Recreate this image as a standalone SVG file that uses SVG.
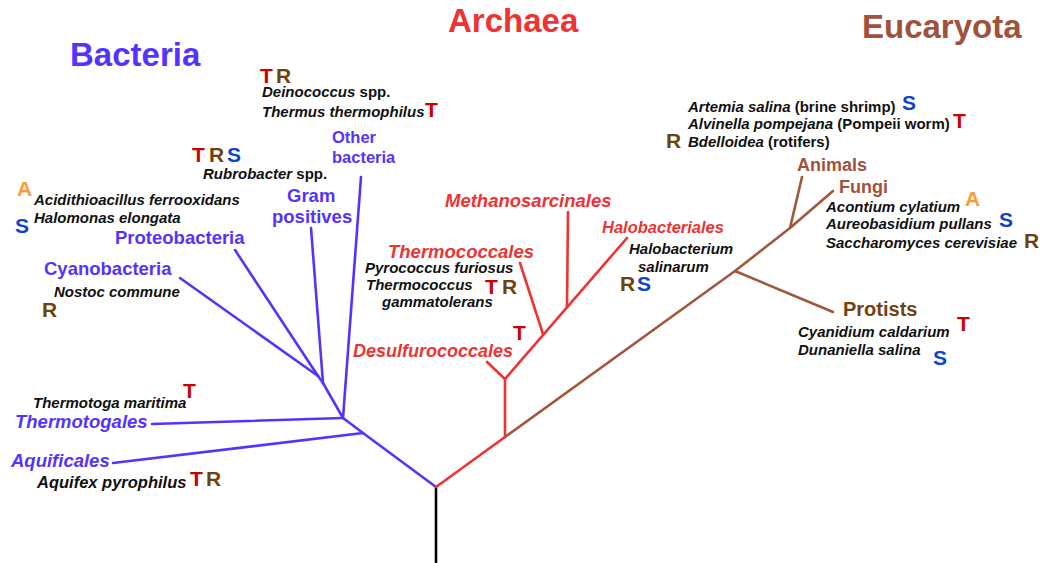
<svg xmlns="http://www.w3.org/2000/svg" width="1044" height="563" viewBox="0 0 1044 563">
<style>
text{font-family:"Liberation Sans",Arial,sans-serif;font-weight:bold}
.title{font-size:33px}
.sp{font-size:15px;fill:#111;font-style:italic}
.up{font-style:normal}
.bl{font-size:18.5px;fill:#5533ff}
.rd{font-size:18.5px;fill:#ee3333;font-style:italic}
.br{font-size:18px;fill:#a0523c}
.it{font-style:italic}
.L{font-size:21px}
.T{fill:#cc0000}
.R{fill:#6e420c}
.S{fill:#0d44cc}
.A{fill:#ff9933}
.lb{stroke:#5533ff}
.lr{stroke:#ee3333}
.ln{stroke:#a0583c}
.lk{stroke:#000}
#connectors line,#connectors polyline{stroke-width:2.6;fill:none;stroke-linecap:round;stroke-linejoin:round}
</style>
<rect width="1044" height="563" fill="#fff"/>
<g id="connectors">
<line class="lk" x1="436" y1="487" x2="436" y2="562"/>
<polyline class="lb" points="436,487 363,433 343,418"/>
<line class="lb" x1="363" y1="433" x2="113" y2="463"/>
<line class="lb" x1="343" y1="418" x2="152" y2="424"/>
<line class="lb" x1="343" y1="418" x2="361" y2="177"/>
<line class="lb" x1="343" y1="418" x2="323" y2="383"/>
<line class="lb" x1="323" y1="383" x2="311" y2="228"/>
<line class="lb" x1="323" y1="383" x2="318" y2="376"/>
<line class="lb" x1="318" y1="376" x2="235" y2="250"/>
<line class="lb" x1="318" y1="376" x2="180" y2="278"/>
<line class="lr" x1="436" y1="487" x2="505" y2="437"/>
<line class="lr" x1="505" y1="437" x2="505" y2="379"/>
<line class="lr" x1="505" y1="379" x2="487" y2="362"/>
<line class="lr" x1="505" y1="379" x2="627" y2="238"/>
<line class="lr" x1="543" y1="334" x2="520" y2="263"/>
<line class="lr" x1="567" y1="307" x2="568" y2="212"/>
<polyline class="ln" points="505,437 735,271 790,228 833,191"/>
<line class="ln" x1="790" y1="228" x2="802" y2="177"/>
<line class="ln" x1="735" y1="271" x2="833" y2="312"/>
</g>
<g id="titles">
<text id="t-bacteria" class="title" x="70" y="66" fill="#5533ff">Bacteria</text>
<text id="t-archaea" class="title" x="448" y="32" fill="#ee3333">Archaea</text>
<text id="t-eucaryota" class="title" x="862" y="38" fill="#a0523c">Eucaryota</text>
</g>
<g id="n-deinococcus">
<text class="L T" x="260" y="83">T</text><text class="L R" x="276" y="83">R</text>
<text class="sp" x="262" y="97">Deinococcus<tspan class="up"> spp.</tspan></text>
<text class="sp" x="262" y="117">Thermus thermophilus</text>
<text class="L T" x="425" y="117">T</text>
</g>
<g id="n-other-bacteria">
<text class="bl" style="font-size:16.5px" x="332" y="143">Other</text>
<text class="bl" style="font-size:16.5px" x="332" y="163">bacteria</text>
</g>
<g id="n-rubrobacter">
<text class="L T" x="192" y="162">T</text><text class="L R" x="209" y="162">R</text><text class="L S" x="227" y="162">S</text>
<text class="sp" x="203" y="179">Rubrobacter<tspan class="up"> spp.</tspan></text>
</g>
<g id="n-gram-positives">
<text class="bl" x="287" y="202">Gram</text>
<text class="bl" x="272" y="223">positives</text>
</g>
<g id="n-proteobacteria">
<text class="L A" x="17" y="196">A</text>
<text class="sp" x="34" y="205">Acidithioacillus ferrooxidans</text>
<text class="sp" x="34" y="223">Halomonas elongata</text>
<text class="L S" x="15" y="233">S</text>
<text class="bl" x="115" y="244">Proteobacteria</text>
</g>
<g id="n-cyanobacteria">
<text class="bl" x="44" y="275">Cyanobacteria</text>
<text class="sp" x="54" y="297">Nostoc commune</text>
<text class="L R" x="42" y="317">R</text>
</g>
<g id="n-thermotogales">
<text class="sp" x="33" y="408">Thermotoga maritima</text>
<text class="L T" x="183" y="398">T</text>
<text class="bl it" x="15" y="428">Thermotogales</text>
</g>
<g id="n-aquificales">
<text class="bl it" x="11" y="467">Aquificales</text>
<text class="sp" style="font-size:16.5px" x="37" y="488">Aquifex pyrophilus</text>
<text class="L T" x="190" y="486">T</text><text class="L R" x="206" y="486">R</text>
</g>
<g id="n-methanosarcinales">
<text class="rd" x="445" y="207">Methanosarcinales</text>
</g>
<g id="n-halobacteriales">
<text class="rd" style="font-size:16.5px" x="602" y="233">Halobacteriales</text>
<text class="sp" x="629" y="254">Halobacterium</text>
<text class="sp" x="638" y="272">salinarum</text>
<text class="L R" x="620" y="291">R</text><text class="L S" x="637" y="291">S</text>
</g>
<g id="n-thermococcales">
<text class="rd" x="388" y="258">Thermococcales</text>
<text class="sp" x="365" y="273">Pyrococcus furiosus</text>
<text class="sp" x="366" y="290">Thermococcus</text>
<text class="sp" x="382" y="307">gammatolerans</text>
<text class="L T" x="485" y="294">T</text><text class="L R" x="502" y="294">R</text>
</g>
<g id="n-desulfurococcales">
<text class="L T" x="513" y="340">T</text>
<text class="rd" style="font-size:18px" x="353" y="357">Desulfurococcales</text>
</g>
<g id="n-animals">
<text class="sp" x="688" y="112">Artemia salina<tspan class="up"> (brine shrimp)</tspan></text>
<text class="L S" x="902" y="110">S</text>
<text class="sp" x="688" y="129">Alvinella pompejana<tspan class="up"> (Pompeii worm)</tspan></text>
<text class="L T" x="953" y="128">T</text>
<text class="L R" x="666" y="148">R</text>
<text class="sp" x="688" y="147">Bdelloidea<tspan class="up"> (rotifers)</tspan></text>
<text class="br" x="797" y="171">Animals</text>
</g>
<g id="n-fungi">
<text class="br" x="839" y="193">Fungi</text>
<text class="sp" x="826" y="212">Acontium cylatium</text>
<text class="L A" x="965" y="206">A</text>
<text class="sp" x="826" y="229">Aureobasidium pullans</text>
<text class="L S" x="999" y="227">S</text>
<text class="sp" x="826" y="248">Saccharomyces cerevisiae</text>
<text class="L R" x="1024" y="248">R</text>
</g>
<g id="n-protists">
<text x="843" y="316" style="font-size:20px" fill="#6e4414">Protists</text>
<text class="L T" x="957" y="331">T</text>
<text class="sp" x="798" y="337">Cyanidium caldarium</text>
<text class="sp" x="798" y="355">Dunaniella salina</text>
<text class="L S" x="933" y="365">S</text>
</g>
</svg>
